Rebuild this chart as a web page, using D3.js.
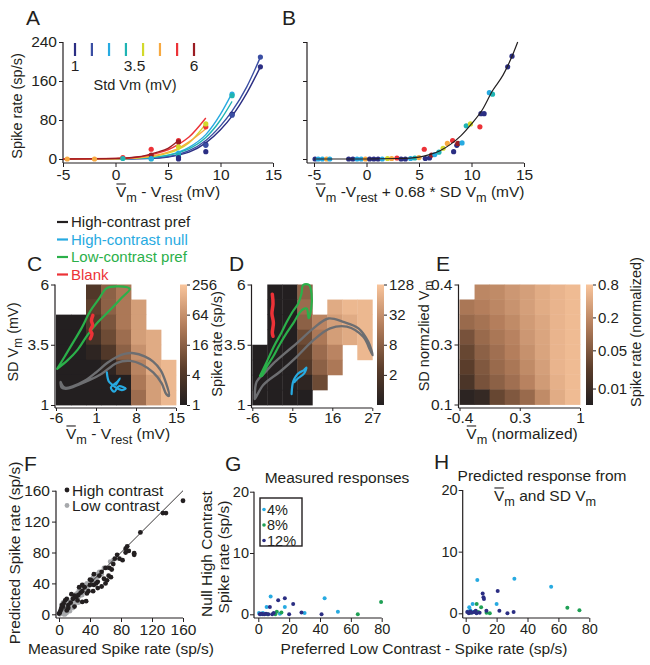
<!DOCTYPE html>
<html><head><meta charset="utf-8">
<script src="https://cdn.jsdelivr.net/npm/d3@7/dist/d3.min.js"></script>
<style>
body{margin:0;background:#fff}
svg{display:block}
text{font-family:"Liberation Sans",Arial,Helvetica,sans-serif;fill:#231f20}
</style></head><body>
<svg id="fig" width="650" height="665"></svg>
<script>
// ---------------- DATA ----------------
// Panel A: std levels, colours, fitted curves, points
const stdLevels = [1, 1.71, 2.43, 3.14, 3.86, 4.57, 5.29, 6];
const stdLegendLabels = ["1", "", "", "3.5", "", "", "", "6"];
const stdColors = ["#2b2e83", "#3a4ea3", "#27aae1", "#1fb3b3", "#d2d92b", "#f7a941", "#ec3237", "#9b1c22"];
const fitX_A = [
  [-5,0,3,5,6,7,8.6,10,11.1,12.5,13.8],
  [-5,0,3,5,6,7,8.6,10,11.1,12.5,13.8],
  [-5,0,3,5,6,7,8.6,10,11.1],
  [-5,0,3,5,6,7,8.6,10,11.1],
  [-5,0,2,3,4,5,6,7,8.6],
  [-5,0,2,3,4,5,6,7,8.6],
  [-5,0,2,3,4,5,6,7,8.6],
  [-5,0,2,3,4,5,6]
];
const fitY_A = [
  [0,0,1,4,8,14,33,60,88,135,189],
  [0,0,1.5,5,9.5,17,38,68,98,148,209],
  [0,0.2,2.5,8,14,24,50,92,135],
  [0,0.2,2.5,7.5,13,21,44,80,118],
  [0,0.5,2,4,7,12,20,33,72],
  [0,0.6,2.5,5,8.5,14,22,35,62],
  [0,1,3.5,7,12,19,30,45,84],
  [0,1.2,4,8,14,22,38]
];
// points: [x, rate, colourIndex]
const pointsA = [
  [-4.6,0,5],[-2,0,5],[0.7,3,6],[0.7,1,3],[3.4,20,6],[3.4,8,7],[3.4,0,3],[3.4,1,2],
  [6,38,6],[6,35,7],[6,25,4],[6,12,2],[6,8,3],[6,3,0],[6,0,0],
  [8.6,66,6],[8.6,72,4],[8.6,30,0],[8.6,28,1],[8.6,15,0],
  [11.1,133,2],[11.1,130,3],[11.1,92,0],[11.1,90,1],
  [13.8,209,1],[13.8,189,0]
];
// Panel B: single fit + points
const fitX_B = [-5,0,3,5,6,7,8,9,10,11,12,13,14,14.4];
const fitY_B = [0,0,1,4,9,17,30,48,72,100,140,172,218,240];
const pointsB = [
  [-4.9,0,0],[-4.6,0,2],[-4.2,0,2],[-3.8,0,5],[-3.5,0,2],[-1.7,0,0],[-1.3,0,0],[-0.9,0,2],[-0.5,0,2],[-0.1,0,5],
  [0.3,0,0],[0.7,0,0],[1.1,0,0],[1.5,0,2],[2.0,1,4],[2.4,1,5],[2.9,2,6],[3.3,0,0],[3.7,0,0],[4.2,1,2],
  [4.6,2,3],[5.0,3,5],[5.5,20,6],[5.6,1,0],[6.0,2,0],[6.2,8,7],[6.5,9,2],[6.9,14,3],[7.3,22,4],[7.7,32,5],
  [8.2,38,6],[8.3,15,0],[8.6,28,0],[8.7,32,7],[9.1,33,2],[9.5,68,3],[9.9,72,4],[10.8,66,6],[10.9,93,0],[11.2,93,0],
  [11.7,136,2],[12.0,133,3],[13.45,189,0],[13.86,211,0]
];
const rateTicks = [0, 80, 160, 240];
const mvTicks = [-5, 0, 5, 10, 15];

// Panel C heat map (sp/s), rows from top (SD 6) to bottom (SD 1)
const heatC = [
  [null,null,4,16,32,null,null,null],
  [null,null,5.7,16,32,90,null,null],
  [1,1,4,11,32,90,null,null],
  [1,1,2.8,8,23,90,128,null],
  [1,1,1.4,4,16,64,128,null],
  [1,1,1,1.4,5.7,45,128,181],
  [1,1,1,1,1,32,90,181],
  [1,1,1,1,1,23,90,181]
];
const heatD = [
  [null,0.5,0.5,8,null,null,null,null],
  [null,0.5,0.5,11,null,64,90,90],
  [null,0.5,0.5,8,23,45,64,90],
  [null,0.5,0.5,4,16,45,64,90],
  [0.5,0.5,0.5,2.8,11,23,null,90],
  [0.5,0.5,0.5,2,8,16,null,null],
  [0.5,0.5,0.5,0.7,4,null,null,null],
  [0.5,0.5,0.5,0.5,null,null,null,null]
];
const heatE = [
  [null,0.175,0.193,0.262,0.32,0.435,0.53,0.62],
  [0.116,0.142,0.175,0.237,0.32,0.435,0.53,0.62],
  [0.081,0.105,0.142,0.193,0.29,0.39,0.53,0.62],
  [0.042,0.081,0.116,0.158,0.262,0.37,0.53,0.62],
  [0.030,0.063,0.095,0.142,0.225,0.355,0.53,0.62],
  [0.023,0.049,0.081,0.116,0.193,0.32,0.53,0.62],
  [0.0153,0.042,0.063,0.095,0.158,0.29,0.48,0.62],
  [0.0064,0.0083,0.030,0.049,0.081,0.193,0.435,0.62]
];
const cXTicks = [-6, 1, 8, 15];
const dXTicks = [-6, 5, 16, 27];
const sdTicks = [1, 3.5, 6];
const cBarTicks = [1, 4, 16, 64, 256];
const dBarTicks = [2, 8, 32, 128];
const eBarTicks = [0.01, 0.05, 0.2, 0.8];
const eXTicks = [-0.4, 0.3, 1];
const eYTickLabels = ["0.1", "0.3", "0.4"];

// trajectories [Vm - Vrest, SD Vm]
const trajC_green = [[-5.8,2.5],[-4.5,3.0],[-3,3.6],[-1.5,4.2],[0,4.9],[1.5,5.4],[2.9,5.85],[5,5.92],[6.9,5.82],[5.5,5.45],[3.5,4.95],[1.2,4.4],[-0.5,3.9],[-2.2,3.3],[-4,2.85],[-5.8,2.5]];
const trajC_gray = [[-5.2,1.95],[-4.5,1.72],[-3,1.78],[-1,2.0],[1,2.35],[3,2.75],[4.7,3.0],[6,3.12],[7.6,3.15],[9.5,3.02],[11,2.8],[12.3,2.45],[13.2,1.95],[13.8,1.38],[13.3,1.45],[12.5,1.9],[11,2.35],[9,2.68],[7,2.83],[4.7,2.75],[2,2.3],[0,2.05],[-2,1.85],[-4,1.68],[-5.0,1.72],[-5.2,1.95]];
const trajC_red = [[0.45,4.72],[0.2,4.5],[0.4,4.3],[0.0,4.1],[0.3,3.95],[0.0,3.75]];
const trajC_blue = [[2.9,2.35],[3.2,2.0],[3.8,1.85],[4.5,1.72],[5.5,1.62],[6.2,1.68],[5.0,1.78],[4.2,1.55],[3.6,1.72],[4.8,1.98],[5.2,2.1],[4.5,1.85]];
const trajD_green = [[-3.9,2.2],[-2,2.8],[0,3.45],[2,4.0],[3.5,4.45],[5,4.85],[6.6,5.2],[7.5,5.6],[8.0,5.98],[9.6,5.98],[10.3,5.6],[10.2,5.0],[9.5,4.6],[9.0,5.0],[8.3,5.0],[7.1,4.85],[5.5,4.45],[3.5,4.0],[1.5,3.5],[-0.3,3.0],[-2,2.6],[-3.4,2.2],[-3.9,2.2]];
const trajD_gray = [[-5.3,1.3],[-4.8,1.97],[-2.5,2.35],[-0.2,2.73],[3,3.15],[6.2,3.56],[10.8,4.18],[14.9,4.59],[19.0,4.45],[23.2,4.18],[25.9,3.62],[27.1,3.07],[26.4,3.28],[24.5,3.83],[20,4.25],[15.4,4.18],[10.8,3.69],[6.2,3.0],[1.6,2.38],[-3,1.83],[-5.3,1.25],[-5.3,1.3]];
const trajD_red = [[-0.5,5.6],[-0.3,5.2],[-0.6,4.8],[-0.2,4.4],[-0.5,4.0],[-0.3,3.85]];
const trajD_blue = [[4.8,1.45],[5.0,1.8],[5.3,2.0],[6,2.2],[7,2.35],[8.2,2.45],[8.9,2.55],[8.2,2.3],[6.5,2.1],[5.6,1.95]];
const legendCD = [["High-contrast pref","#231f20"],["High-contrast null","#27aae1"],["Low-contrast pref","#2bb04a"],["Blank","#ec3237"]];

// Panel F: [measured, predicted]
const fHigh = [[160,147],[134,131],[138,131],[105,106],[88,88],[86,85],[90,82],[97,79],[97,77],[86,80],[75,77],[72,72],[70,65],[65,60],[68,58],[64,50],[67,48],[62,44],[60,60],[55,55],[52,50],[50,42],[48,40],[50,34],[45,38],[42,44],[40,45],[38,30],[36,27],[35,17],[30,16],[33,35],[30,30],[28,28],[25,25],[22,22],[20,24],[18,20],[16,26],[15,15],[12,12],[10,20],[8,18],[6,14],[5,10],[4,12],[3,8],[2,5],[1,2],[0,1],[12,8],[24,18],[26,35],[44,30],[55,36],[58,46],[60,40],[78,72],[82,70],[40,38],[20,10],[10,5],[30,38],[45,52]];
const fLow = [[2,3],[3,1],[4,6],[5,2],[6,8],[7,4],[8,10],[9,6],[10,12],[11,8],[12,14],[13,10],[14,16],[15,12],[16,18],[17,14],[18,22],[19,16],[20,24],[21,18],[22,26],[23,20],[24,28],[25,22],[26,32],[27,24],[28,34],[29,28],[30,36],[32,30],[33,38],[35,34],[36,40],[38,36],[40,44],[42,40],[44,48],[46,44],[48,52],[50,48],[52,55],[55,52],[58,60],[62,60],[66,68],[70,70],[3,12],[5,15],[8,0],[10,2],[14,4],[18,8],[20,12],[25,15],[30,25],[36,30],[1,0],[4,3],[6,0]];
const fTicks = [0, 40, 80, 120, 160];

// Panels G/H: [preferred low-contrast rate, null high-contrast rate]
const contrastLevels = ["4%", "8%", "12%"];
const contrastColors = ["#27aae1", "#1fa055", "#2b2e83"];
const gPts = [
  [[0.5,0.2],[1.5,0],[3,0.2],[5.4,1.2],[8,2.9],[17.2,1.2],[30,0.2],[43,2.6],[51.6,0.4],[14,0.1]],
  [[11,0],[15,0.3],[12,0.4],[64.5,0],[79.6,2.0],[6,0]],
  [[1,0],[2,0.1],[3,0],[4,0],[5,0.1],[6.5,0],[7.5,1.2],[9,0],[10,0.2],[12.9,2.3],[17.2,2.6],[20,0],[22.6,1.7],[28,0.3],[41,0]]
];
const hPts = [
  [[2.3,1.0],[3,0.5],[4.5,1.5],[7.5,5.4],[20,1.5],[31.5,5.6],[55.3,4.3],[1.5,0.3],[5,0.2]],
  [[7.1,1.5],[10,1.0],[13.5,0.1],[15.6,0],[65.8,0.9],[73.6,0.5],[3,0.1],[8,0.2]],
  [[1,0.2],[2,0],[3,0.3],[4,0.1],[5.5,0.2],[6.5,0.4],[7,0],[9,0.1],[11,3.2],[11.5,2.6],[11.8,2.3],[13.4,0.4],[20.7,3.6],[21.8,0.4],[27,0],[31,0.2]]
];
const ghXTicks = [0, 20, 40, 60, 80];
const ghYTicks = [0, 10, 20];

// ---------------- DRAWING ----------------
const svg = d3.select("#fig");
const INK = "#231f20";
const FS = 15.5;

function rich(parent, x, y, parts, fs, anchor, rotate) {
  const t = parent.append("text").attr("font-size", fs).attr("text-anchor", anchor || "middle");
  if (rotate) t.attr("transform", `translate(${x},${y}) rotate(-90)`);
  else t.attr("x", x).attr("y", y);
  let shifted = false, idx = 0;
  const bars = [];
  parts.forEach(p => {
    const s = t.append("tspan").text(p.t);
    if (p.sub) { s.attr("font-size", fs * 0.82); if (!shifted) s.attr("dy", fs * 0.3); shifted = true; }
    else if (shifted) { s.attr("dy", -fs * 0.3); shifted = false; }
    if (p.bar) bars.push(idx);
    idx += p.t.length;
  });
  if (!rotate) {
    const n = t.node();
    bars.forEach(i => {
      const a = n.getStartPositionOfChar(i), b = n.getEndPositionOfChar(i);
      parent.append("line").attr("x1", a.x + 0.5).attr("x2", b.x - 0.5)
        .attr("y1", a.y - fs * 0.84).attr("y2", a.y - fs * 0.84)
        .attr("stroke", INK).attr("stroke-width", 1.1);
    });
  }
  return t;
}
function letter(x, y, s) {
  svg.append("text").attr("x", x).attr("y", y).attr("font-size", 21).text(s);
}
function fmtT(opts) {
  return opts.labels ? ((d, i) => opts.labels[i]) : (opts.noLabels ? () => "" : d => String(d));
}
function xAxis(scale, ticks, yPos, x0, x1, opts) {
  opts = opts || {};
  const g = svg.append("g").attr("transform", `translate(0,${yPos})`)
    .call(d3.axisBottom(scale).tickValues(ticks).tickSize(opts.ts || 4).tickPadding(opts.pad != null ? opts.pad : 2).tickFormat(fmtT(opts)));
  g.select(".domain").remove();
  g.selectAll("line").attr("stroke", INK);
  g.selectAll("text").attr("font-size", opts.fs || FS).attr("fill", INK).attr("font-family", null);
  svg.append("line").attr("x1", x0).attr("x2", x1).attr("y1", yPos).attr("y2", yPos).attr("stroke", INK).attr("stroke-width", 1.2);
  return g;
}
function yAxis(scale, ticks, xPos, y0, y1, opts) {
  opts = opts || {};
  const g = svg.append("g").attr("transform", `translate(${xPos},0)`)
    .call(d3.axisLeft(scale).tickValues(ticks).tickSize(4).tickPadding(opts.pad != null ? opts.pad : 2).tickFormat(fmtT(opts)));
  g.select(".domain").remove();
  g.selectAll("line").attr("stroke", INK);
  g.selectAll("text").attr("font-size", opts.fs || FS).attr("fill", INK).attr("font-family", null);
  svg.append("line").attr("x1", xPos).attr("x2", xPos).attr("y1", y0).attr("y2", y1).attr("stroke", INK).attr("stroke-width", 1.2);
  return g;
}

// ===== Panel A =====
letter(26, 25, "A");
const xA = d3.scaleLinear().domain([-5, 15]).range([63, 273]);
const yA = d3.scaleLinear().domain([0, 240]).range([159, 42]);
xAxis(xA, mvTicks, 163, 63, 273);
yAxis(yA, rateTicks, 63, 42, 163);
const lineA = d3.line().curve(d3.curveMonotoneX);
fitX_A.forEach((xs, k) => {
  svg.append("path").attr("d", lineA(xs.map((x, i) => [xA(x), yA(fitY_A[k][i])])))
    .attr("fill", "none").attr("stroke", stdColors[k]).attr("stroke-width", 1.4);
});
svg.append("g").selectAll("circle").data(pointsA).join("circle")
  .attr("cx", d => xA(d[0])).attr("cy", d => yA(d[1])).attr("r", 2.6).attr("fill", d => stdColors[d[2]]);
// legend of std levels
const legX = d3.scaleLinear().domain([1, 6]).range([75, 194]);
stdLevels.forEach((s, i) => {
  svg.append("line").attr("x1", legX(s)).attr("x2", legX(s)).attr("y1", 43).attr("y2", 56)
    .attr("stroke", stdColors[i]).attr("stroke-width", 2.2);
});
stdLegendLabels.forEach((l, i) => {
  if (!l) return;
  const xx = l === "3.5" ? (legX(stdLevels[3]) + legX(stdLevels[4])) / 2 : legX(stdLevels[i]);
  svg.append("text").attr("x", xx).attr("y", 71).attr("text-anchor", "middle").attr("font-size", FS).text(l);
});
svg.append("text").attr("x", 135).attr("y", 90).attr("text-anchor", "middle").attr("font-size", 14.5).text("Std Vm (mV)");
rich(svg, 22, 106, [{t: "Spike rate (sp/s)"}], 14.5, "middle", true);
rich(svg, 168, 197, [{t: "V", bar: 1}, {t: "m", sub: 1}, {t: " - V"}, {t: "rest", sub: 1}, {t: " (mV)"}], 15.5);

// ===== Panel B =====
letter(282, 25, "B");
const xB = d3.scaleLinear().domain([-5, 15]).range([314, 524]);
xAxis(xB, mvTicks, 163, 307, 524);
yAxis(yA, rateTicks, 307, 42, 163, {noLabels: true});
svg.append("g").selectAll("circle").data(pointsB).join("circle")
  .attr("cx", d => xB(d[0])).attr("cy", d => yA(d[1])).attr("r", 2.6).attr("fill", d => stdColors[d[2]]);
svg.append("path").attr("d", lineA(fitX_B.map((x, i) => [xB(x), yA(fitY_B[i])])))
  .attr("fill", "none").attr("stroke", INK).attr("stroke-width", 1.2);
rich(svg, 420, 197, [{t: "V", bar: 1}, {t: "m", sub: 1}, {t: " -V"}, {t: "rest", sub: 1}, {t: " + 0.68 * SD V"}, {t: "m", sub: 1}, {t: " (mV)"}], 15.5);

// ===== colour map =====
const cmap = d3.scaleLinear().domain([0, 0.3, 0.65, 1]).range(["#231f20", "#5a3d2b", "#b27c5a", "#f9c59c"]).clamp(true);
function gradient(id) {
  const lg = svg.append("defs").append("linearGradient").attr("id", id)
    .attr("x1", 0).attr("y1", 1).attr("x2", 0).attr("y2", 0);
  d3.range(0, 1.0001, 0.1).forEach(t => lg.append("stop").attr("offset", t).attr("stop-color", cmap(t)));
}
gradient("cbar");

function heat(data, xs, ys, xDom, yDom, tOf) {
  const nR = data.length, nC = data[0].length;
  const cw = (xDom[1] - xDom[0]) / nC, rh = (yDom[1] - yDom[0]) / nR;
  const cells = [];
  data.forEach((row, r) => row.forEach((v, c) => { if (v != null) cells.push({r, c, v}); }));
  svg.append("g").selectAll("rect").data(cells).join("rect")
    .attr("x", d => xs(xDom[0] + d.c * cw))
    .attr("y", d => ys(yDom[1] - d.r * rh))
    .attr("width", d => xs(xDom[0] + (d.c + 1) * cw) - xs(xDom[0] + d.c * cw) + 0.4)
    .attr("height", d => ys(yDom[1] - (d.r + 1) * rh) - ys(yDom[1] - d.r * rh) + 0.4)
    .attr("fill", d => cmap(tOf(d.v)));
}
function colorbar(x, y0, y1, scale, ticks, fmt) {
  svg.append("rect").attr("x", x).attr("y", y0).attr("width", 7).attr("height", y1 - y0).attr("fill", "url(#cbar)");
  const g = svg.append("g").attr("transform", `translate(${x + 7},0)`)
    .call(d3.axisRight(scale).tickValues(ticks).tickSize(3).tickPadding(2).tickFormat(fmt));
  g.select(".domain").remove();
  g.selectAll("line").attr("stroke", INK);
  g.selectAll("text").attr("font-size", 15).attr("fill", INK).attr("font-family", null);
}
const traj = d3.line().curve(d3.curveCatmullRom.alpha(0.5));
function drawTraj(pts, xs, ys, color, w) {
  svg.append("path").attr("d", traj(pts.map(p => [xs(p[0]), ys(p[1])])))
    .attr("fill", "none").attr("stroke", color).attr("stroke-width", w).attr("stroke-linejoin", "round").attr("stroke-linecap", "round");
}

// legend for C/D
legendCD.forEach((d, i) => {
  const yy = 222 + i * 17.5;
  svg.append("line").attr("x1", 57).attr("x2", 68).attr("y1", yy).attr("y2", yy).attr("stroke", d[1]).attr("stroke-width", 2.2);
  svg.append("text").attr("x", 71).attr("y", yy + 5).attr("font-size", 15).style("fill", d[1]).text(d[0]);
});

// ===== Panel C =====
letter(27, 271, "C");
const ySD = d3.scaleLinear().domain([1, 6]).range([405, 284.5]);
const xC = d3.scaleLinear().domain([-6, 15]).range([56, 176]);
const tC = d3.scaleLog().domain([1, 256]).range([0, 1]);
heat(heatC, xC, ySD, [-6, 15], [1, 6], v => tC(v));
drawTraj(trajC_green, xC, ySD, "#2bb04a", 2.2);
drawTraj(trajC_gray, xC, ySD, "#6d6e71", 2.4);
drawTraj(trajC_blue, xC, ySD, "#27aae1", 2.2);
drawTraj(trajC_red, xC, ySD, "#ec3237", 3.5);
const hx = {ts: 3, pad: 1};
xAxis(xC, cXTicks, 408, 55, 176, hx);
yAxis(ySD, sdTicks, 55, 284.5, 408);
colorbar(180, 284.5, 405, d3.scaleLog().domain([1, 256]).range([405, 284.5]), cBarTicks, d => String(d));
rich(svg, 222, 344, [{t: "Spike rate (sp/s)"}], 14.5, "middle", true);
rich(svg, 18, 342, [{t: "SD V"}, {t: "m", sub: 1}, {t: " (mV)"}], 14.5, "middle", true);
rich(svg, 118, 439, [{t: "V", bar: 1}, {t: "m", sub: 1}, {t: " - V"}, {t: "rest", sub: 1}, {t: " (mV)"}], 15.5);

// ===== Panel D =====
letter(229, 271, "D");
const xD = d3.scaleLinear().domain([-6, 27]).range([252.3, 372.3]);
const tD = d3.scaleLog().domain([0.5, 128]).range([0, 1]);
heat(heatD, xD, ySD, [-6, 27], [1, 6], v => tD(v));
drawTraj(trajD_gray, xD, ySD, "#6d6e71", 2.4);
drawTraj(trajD_green, xD, ySD, "#2bb04a", 2.2);
drawTraj(trajD_blue, xD, ySD, "#27aae1", 2.2);
drawTraj(trajD_red, xD, ySD, "#ec3237", 3.5);
xAxis(xD, dXTicks, 408, 251.5, 372.3, hx);
yAxis(ySD, sdTicks, 251.5, 284.5, 408);
colorbar(377, 284.5, 405, d3.scaleLog().domain([0.5, 128]).range([405, 284.5]), dBarTicks, d => String(d));

// ===== Panel E =====
letter(436, 271, "E");
const xE = d3.scaleLinear().domain([-0.4, 1]).range([459.5, 580]);
const yE = d3.scaleLinear().domain([0, 8]).range([404.5, 284.5]);
const tE = d3.scaleLog().domain([0.005, 0.8]).range([0, 1]);
heat(heatE, xE, yE, [-0.4, 1], [0, 8], v => tE(v));
xAxis(xE, eXTicks, 408, 458.5, 580, hx);
yAxis(yE, [0, 4, 8], 458.5, 284.5, 408, {labels: eYTickLabels});
colorbar(586, 284.5, 405, d3.scaleLog().domain([0.005, 0.8]).range([405, 284.5]), eBarTicks, d => String(d));
rich(svg, 429, 336, [{t: "SD normzlied V"}, {t: "m", sub: 1}], 14.5, "middle", true);
rich(svg, 641, 332, [{t: "Spike rate (normalized)"}], 14.5, "middle", true);
rich(svg, 522, 439, [{t: "V", bar: 1}, {t: "m", sub: 1}, {t: " (normalized)"}], 15.5);

// ===== Panel F =====
letter(24, 471, "F");
const xF = d3.scaleLinear().domain([0, 160]).range([59, 183]);
const yF = d3.scaleLinear().domain([0, 160]).range([614.3, 490.7]);
xAxis(xF, fTicks, 618, 56, 183);
yAxis(yF, fTicks, 56, 490.7, 618);
svg.append("g").selectAll("circle").data(fLow).join("circle")
  .attr("cx", d => xF(d[0])).attr("cy", d => yF(d[1])).attr("r", 2.4).attr("fill", "#a7a9ac");
svg.append("g").selectAll("circle").data(fHigh).join("circle")
  .attr("cx", d => xF(d[0])).attr("cy", d => yF(d[1])).attr("r", 2.4).attr("fill", INK);
svg.append("line").attr("x1", xF(0)).attr("y1", yF(0)).attr("x2", xF(160)).attr("y2", yF(160))
  .attr("stroke", INK).attr("stroke-width", 0.9);
svg.append("circle").attr("cx", 67).attr("cy", 490).attr("r", 2.4).attr("fill", INK);
svg.append("text").attr("x", 72).attr("y", 495.5).attr("font-size", 15.5).text("High contrast");
svg.append("circle").attr("cx", 67).attr("cy", 505.5).attr("r", 2.4).attr("fill", "#a7a9ac");
svg.append("text").attr("x", 72).attr("y", 511).attr("font-size", 15.5).text("Low contrast");
rich(svg, 20, 553, [{t: "Predicted Spike rate (sp/s)"}], 15.5, "middle", true);
rich(svg, 121, 654, [{t: "Measured Spike rate (sp/s)"}], 15.5);

// ===== Panel G =====
letter(225, 471, "G");
const xG = d3.scaleLinear().domain([0, 80]).range([258.3, 381.7]);
const yG = d3.scaleLinear().domain([0, 20]).range([614.3, 491.7]);
const gh = {fs: 14.5};
xAxis(xG, ghXTicks, 618, 254, 381.7, gh);
yAxis(yG, ghYTicks, 254, 491.7, 618, {fs: 14.5, pad: 1});
gPts.forEach((pts, k) => {
  svg.append("g").selectAll("circle").data(pts).join("circle")
    .attr("cx", d => xG(d[0])).attr("cy", d => yG(d[1])).attr("r", 2).attr("fill", contrastColors[k]);
});
svg.append("rect").attr("x", 260).attr("y", 498).attr("width", 42).attr("height", 48)
  .attr("fill", "none").attr("stroke", INK).attr("stroke-width", 1.4);
contrastLevels.forEach((l, i) => {
  const yy = 509.5 + i * 15.5;
  svg.append("circle").attr("cx", 264).attr("cy", yy).attr("r", 1.8).attr("fill", contrastColors[i]);
  svg.append("text").attr("x", 267).attr("y", yy + 5).attr("font-size", 14.5).text(l);
});
svg.append("text").attr("x", 337).attr("y", 483).attr("text-anchor", "middle").attr("font-size", 15.5).text("Measured responses");
rich(svg, 212, 554, [{t: "Null High Contrast"}], 15.5, "middle", true);
rich(svg, 229, 557, [{t: "Spike rate (sp/s)"}], 15.5, "middle", true);
rich(svg, 424, 654, [{t: "Preferred Low Contrast - Spike rate (sp/s)"}], 15.5);

// ===== Panel H =====
letter(434, 469, "H");
const xH = d3.scaleLinear().domain([0, 80]).range([465.7, 589.3]);
const yH = d3.scaleLinear().domain([0, 20]).range([613.3, 490]);
xAxis(xH, ghXTicks, 618, 462.7, 589.3, gh);
yAxis(yH, ghYTicks, 462.7, 490, 618, {fs: 14.5, pad: 1});
hPts.forEach((pts, k) => {
  svg.append("g").selectAll("circle").data(pts).join("circle")
    .attr("cx", d => xH(d[0])).attr("cy", d => yH(d[1])).attr("r", 2).attr("fill", contrastColors[k]);
});
svg.append("text").attr("x", 542).attr("y", 481).attr("text-anchor", "middle").attr("font-size", 15.5).text("Predicted response from");
rich(svg, 545, 501, [{t: "V", bar: 1}, {t: "m", sub: 1}, {t: " and SD V"}, {t: "m", sub: 1}], 15.5);
</script></body></html>
